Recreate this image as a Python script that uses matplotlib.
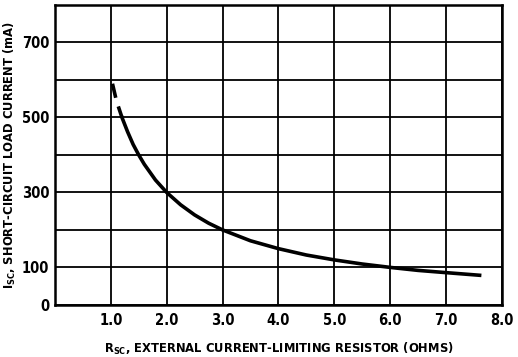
import matplotlib
matplotlib.use("Agg")
import matplotlib.pyplot as plt

# Short-circuit current vs. external current-limiting resistor
r_dashed = [1.03, 1.1, 1.2]
i_dashed = [590, 545, 500]

r_solid = [1.2, 1.3, 1.4, 1.5, 1.6, 1.8, 2.0, 2.25, 2.5, 2.75, 3.0,
           3.5, 4.0, 4.5, 5.0, 5.5, 6.0, 6.5, 7.0, 7.6]
i_solid = [500, 462, 428, 400, 375, 333, 300, 267, 240, 218, 200,
           171, 150, 133, 120, 109, 100, 92, 86, 79]

x_grid = [1, 2, 3, 4, 5, 6, 7, 8]
x_ticklabels = ["1.0", "2.0", "3.0", "4.0", "5.0", "6.0", "7.0", "8.0"]
y_grid = [0, 100, 200, 300, 400, 500, 600, 700, 800]
y_ticklabels = {0: "0", 100: "100", 300: "300", 500: "500", 700: "700"}

plt.rcParams['font.family'] = ['Liberation Sans Narrow', 'DejaVu Sans']
plt.rcParams['font.weight'] = 'bold'
plt.rcParams['font.stretch'] = 'condensed'
plt.rcParams['mathtext.default'] = 'regular'

fig = plt.figure(figsize=(5.18, 3.57), dpi=100)
ax = fig.add_axes([0.106, 0.146, 0.863, 0.840])

ax.plot(r_dashed, i_dashed, color='black', lw=2.6, dashes=(4, 2.5), solid_capstyle='butt')
ax.plot(r_solid, i_solid, color='black', lw=2.6)

ax.set_xlim(0, 8)
ax.set_ylim(0, 800)
ax.set_xticks(x_grid)
ax.set_xticklabels(x_ticklabels)
ax.set_yticks(y_grid)
ax.set_yticklabels([y_ticklabels.get(v, "") for v in y_grid])
ax.grid(color='black', lw=1.3)
ax.set_axisbelow(True)
ax.tick_params(length=0, labelsize=10.5)
ax.tick_params(axis='x', pad=6)
ax.tick_params(axis='y', pad=4)

for s in ax.spines.values():
    s.set_linewidth(1.8)

ax.set_xlabel(r"R$_{SC}$, EXTERNAL CURRENT-LIMITING RESISTOR (OHMS)",
              fontsize=9.3, fontweight='bold', labelpad=9)
ax.set_ylabel(r"I$_{SC}$, SHORT-CIRCUIT LOAD CURRENT (mA)",
              fontsize=9.3, fontweight='bold', labelpad=3)

fig.savefig("out.png", dpi=100)
